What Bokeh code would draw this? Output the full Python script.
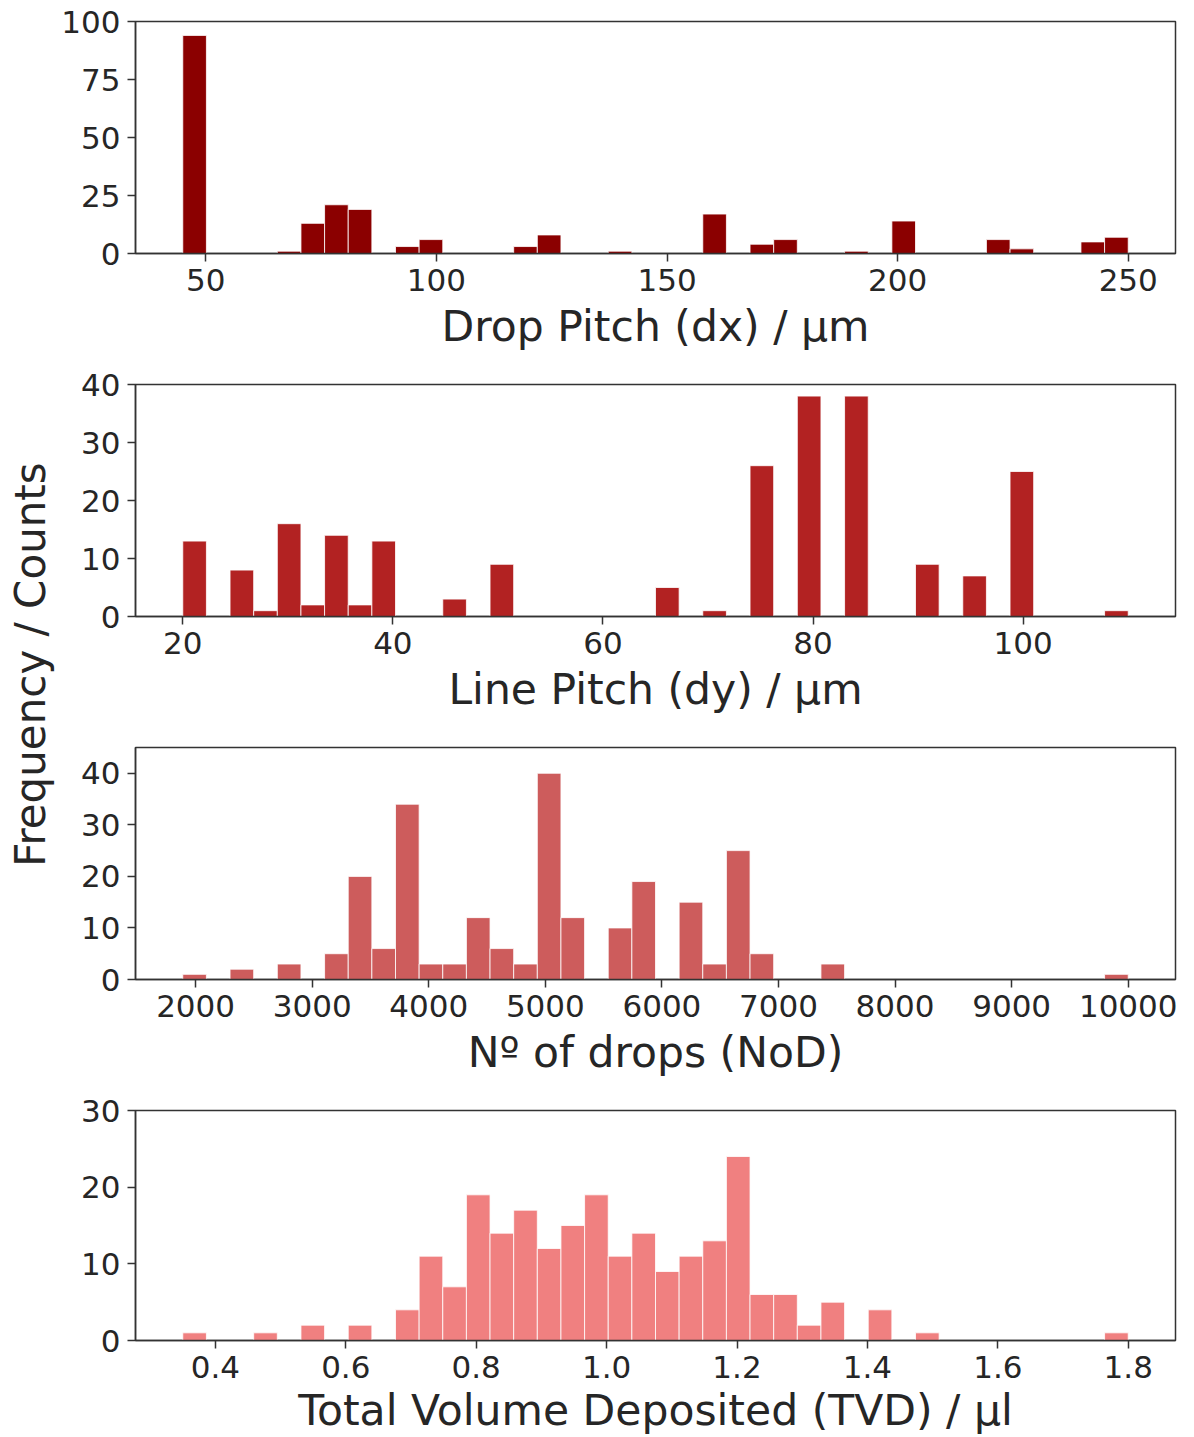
import numpy as np
from bokeh.plotting import figure
from bokeh.layouts import row, column
from bokeh.models import Range1d, FixedTicker, NumeralTickFormatter, ColumnDataSource, Label
from bokeh.embed import file_html
from bokeh.resources import INLINE

# Histogram counts, 40 equal-width bins spanning each quantity's (min, max)
dx_range = (45, 250)
dx_counts = [94, 0, 0, 0, 1, 13, 21, 19, 0, 3,
             6, 0, 0, 0, 3, 8, 0, 0, 1, 0,
             0, 0, 17, 0, 4, 6, 0, 0, 1, 0,
             14, 0, 0, 0, 6, 2, 0, 0, 5, 7]

dy_range = (20, 110)
dy_counts = [13, 0, 8, 1, 16, 2, 14, 2, 13, 0,
             0, 3, 0, 9, 0, 0, 0, 0, 0, 0,
             5, 0, 1, 0, 26, 0, 38, 0, 38, 0,
             0, 9, 0, 7, 0, 25, 0, 0, 0, 1]

nod_range = (1890, 10000)
nod_counts = [1, 0, 2, 0, 3, 0, 5, 20, 6, 34,
              3, 3, 12, 6, 3, 40, 12, 0, 10, 19,
              0, 15, 3, 25, 5, 0, 0, 3, 0, 0,
              0, 0, 0, 0, 0, 0, 0, 0, 0, 1]

tvd_range = (0.35, 1.80)
tvd_counts = [1, 0, 0, 1, 0, 2, 0, 2, 0, 4,
              11, 7, 19, 14, 17, 12, 15, 19, 11, 14,
              9, 11, 13, 24, 6, 6, 2, 5, 0, 4,
              0, 1, 0, 0, 0, 0, 0, 0, 0, 1]

# Axis ticks and labels
dx_xticks = [50, 100, 150, 200, 250]
dy_xticks = [20, 40, 60, 80, 100]
nod_xticks = [2000, 3000, 4000, 5000, 6000, 7000, 8000, 9000, 10000]
tvd_xticks = [0.4, 0.6, 0.8, 1.0, 1.2, 1.4, 1.6, 1.8]

dx_yticks = [0, 25, 50, 75, 100]
dy_yticks = [0, 10, 20, 30, 40]
nod_yticks = [0, 10, 20, 30, 40]
tvd_yticks = [0, 10, 20, 30]

xlabels = ["Drop Pitch (dx) / μm", "Line Pitch (dy) / μm",
           "Nº of drops (NoD)", "Total Volume Deposited (TVD) / μl"]
ylabel = "Frequency / Counts"
colors = ["#8B0000", "#B22222", "#CD5C5C", "#F08080"]

SPINE = "#333333"
TEXT = "#262626"
FONT = "DejaVu Sans"
STRIP = 58  # width of the strip holding the shared y title


def hist_panel(counts, rng, color, xlabel, xticks, yticks, ymax, fmt, height, bottom,
               label_standoff=8):
    lo, hi = rng
    edges = np.linspace(lo, hi, len(counts) + 1)
    pad = 0.05 * (hi - lo)
    p = figure(width=1194 - STRIP, height=height,
               x_range=Range1d(lo - pad, hi + pad), y_range=Range1d(0, ymax),
               output_backend="svg", toolbar_location=None,
               min_border_left=135 - STRIP, min_border_right=19,
               min_border_top=21, min_border_bottom=bottom)
    src = ColumnDataSource(dict(left=edges[:-1], right=edges[1:], top=counts))
    p.quad(left="left", right="right", bottom=0, top="top", source=src,
           fill_color=color, line_color="white", line_width=0.8)

    p.xgrid.visible = False
    p.ygrid.visible = False
    p.outline_line_color = SPINE
    p.outline_line_width = 1.5
    p.background_fill_color = "white"
    p.border_fill_color = "white"

    p.xaxis.ticker = FixedTicker(ticks=xticks)
    p.yaxis.ticker = FixedTicker(ticks=yticks)
    p.xaxis.formatter = NumeralTickFormatter(format=fmt)
    p.yaxis.formatter = NumeralTickFormatter(format="0")

    for ax in (p.xaxis[0], p.yaxis[0]):
        ax.axis_line_color = SPINE
        ax.axis_line_width = 1.5
        ax.major_tick_line_color = SPINE
        ax.major_tick_line_width = 1.5
        ax.major_tick_out = 8
        ax.major_tick_in = 0
        ax.minor_tick_line_color = None
        ax.major_label_text_font = FONT
        ax.major_label_text_font_size = "31px"
        ax.major_label_text_color = TEXT
    p.yaxis.major_label_standoff = 7
    p.xaxis.major_label_standoff = 7

    p.xaxis.axis_label = xlabel
    p.xaxis.axis_label_text_font = FONT
    p.xaxis.axis_label_text_font_size = "42.5px"
    p.xaxis.axis_label_text_font_style = "normal"
    p.xaxis.axis_label_text_color = TEXT
    p.xaxis.axis_label_standoff = label_standoff
    return p


p1 = hist_panel(dx_counts, dx_range, colors[0], xlabels[0], dx_xticks, dx_yticks, 100, "0", 363, 110)
p2 = hist_panel(dy_counts, dy_range, colors[1], xlabels[1], dy_xticks, dy_yticks, 40, "0", 363, 110)
p3 = hist_panel(nod_counts, nod_range, colors[2], xlabels[2], nod_xticks, nod_yticks, 45, "0", 363, 110)
p4 = hist_panel(tvd_counts, tvd_range, colors[3], xlabels[3], tvd_xticks, tvd_yticks, 30, "0.0", 348, 97,
                label_standoff=5)

# Shared y-axis title on a narrow strip at the left
lab = figure(width=STRIP, height=1437, x_range=Range1d(0, STRIP), y_range=Range1d(0, 1437),
             output_backend="svg", toolbar_location=None, min_border=0,
             x_axis_type=None, y_axis_type=None)
lab.outline_line_color = None
lab.border_fill_color = "white"
lab.add_layout(Label(x=30, y=773, x_units="screen", y_units="screen", text=ylabel,
                     angle=np.pi / 2, text_align="center", text_baseline="middle",
                     text_font=FONT, text_font_size="42px", text_color=TEXT))

layout = row(lab, column(p1, p2, p3, p4))

open("out.html", "w").write(file_html(layout, INLINE))
